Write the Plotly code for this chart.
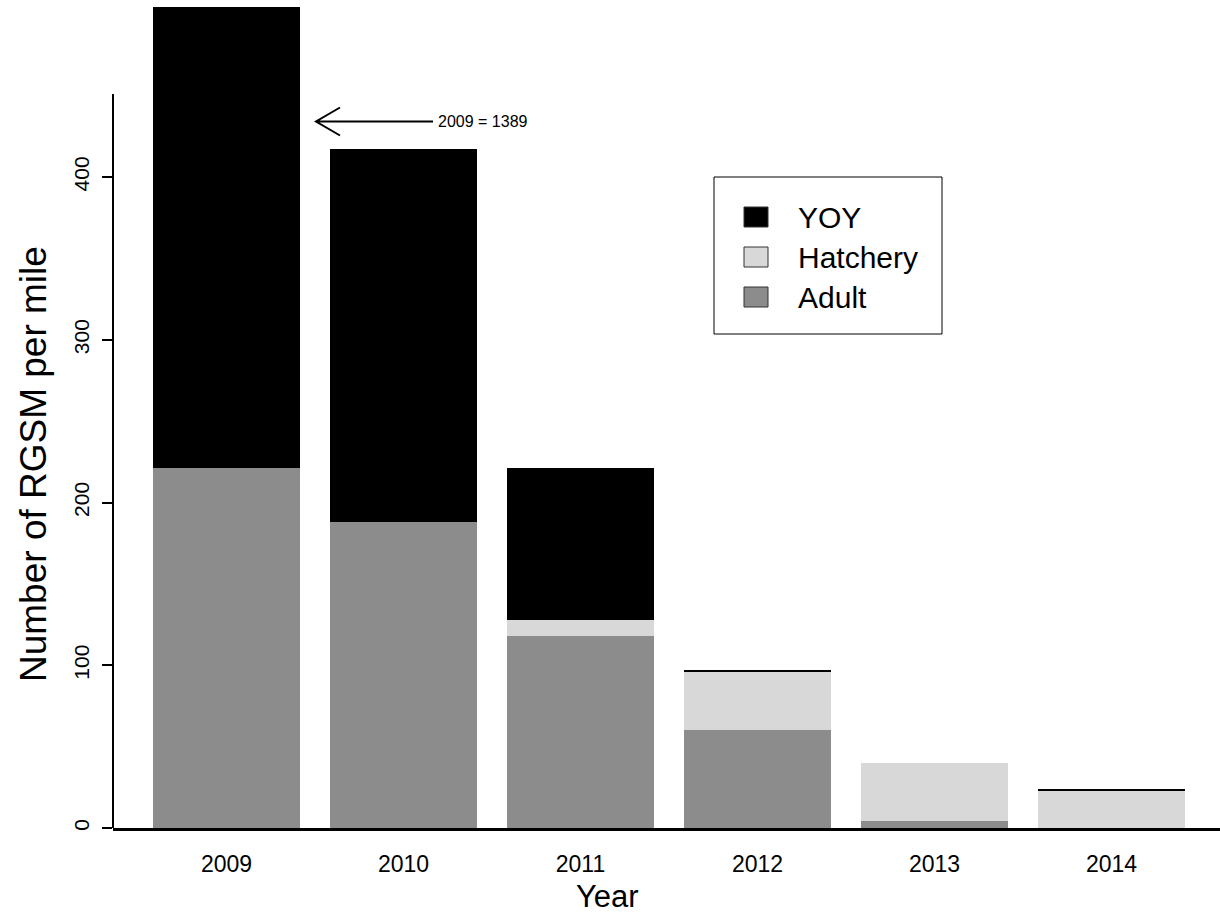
import plotly.graph_objects as go

# ---------------- data ----------------
years = ["2009", "2010", "2011", "2012", "2013", "2014"]
adult = [221, 188, 118, 60, 4, 0]
hatchery = [0, 0, 10, 36, 36, 23]
yoy = [1168, 229, 93, 1, 0, 1]
series_names = ["YOY", "Hatchery", "Adult"]
series_colors = ["#000000", "#d8d8d8", "#8c8c8c"]
y_ticks = [0, 100, 200, 300, 400]
note_text = "2009 = 1389"

# ---------------- layout geometry ----------------
W, H = 1220, 920
L, R, T, B = 113, 0, 7, 92
PW, PH = W - L - R, H - T - B
Y_MAX = 504.5
X_RANGE = [-0.641, 5.613]


def px(x):
    return (x - L) / PW


def py(y):
    return (H - B - y) / PH


xpos = list(range(len(years)))
FONT = "Liberation Sans, Arial, sans-serif"

fig = go.Figure()
# stacking order: Adult bottom, Hatchery, YOY top
for name, vals in [("Adult", adult), ("Hatchery", hatchery), ("YOY", yoy)]:
    col = series_colors[series_names.index(name)]
    fig.add_trace(go.Bar(x=xpos, y=vals, name=name, width=0.83,
                         marker=dict(color=col, line=dict(width=0)),
                         showlegend=False))

fig.update_layout(
    barmode="stack",
    width=W, height=H,
    margin=dict(l=L, r=R, t=T, b=B, pad=0),
    paper_bgcolor="white", plot_bgcolor="white",
    font=dict(family=FONT, color="black"),
    showlegend=False,
)

fig.update_xaxes(
    range=X_RANGE, tickvals=xpos, ticktext=years,
    showline=True, linecolor="black", linewidth=3,
    showgrid=False, zeroline=False, ticks="",
    ticklabelstandoff=13,
    tickfont=dict(size=23, family=FONT, color="black"),
    automargin=False,
)
fig.update_yaxes(
    range=[0, Y_MAX], tickvals=y_ticks,
    showline=False, showgrid=False, zeroline=False,
    ticks="outside", ticklen=10, tickwidth=1.5, tickcolor="black",
    tickangle=-90, ticklabelstandoff=5,
    tickfont=dict(size=21, family=FONT, color="black"),
    automargin=False,
)

# axis titles (placed like the R figure region, not centred on the plot area)
fig.add_annotation(xref="paper", yref="paper", x=px(607), y=py(896),
                   text="Year", showarrow=False, xanchor="center", yanchor="middle",
                   font=dict(size=31, family=FONT, color="black"))
fig.add_annotation(xref="paper", yref="paper", x=px(33), y=py(464),
                   text="Number of RGSM per mile", showarrow=False, textangle=-90,
                   xanchor="center", yanchor="middle",
                   font=dict(size=37, family=FONT, color="black"))

# y axis line (stops short of plot top, as in the reference)
fig.add_shape(type="line", xref="paper", yref="y", x0=0, x1=0, y0=0, y1=451,
              line=dict(color="black", width=2))

# arrow annotation pointing at the 2009 bar
head_x = px(316)
tail_x = px(433)
arm_x = px(340)
ya = py(121.5)
dy = 14 / PH
fig.add_shape(type="path", xref="paper", yref="paper",
              path=(f"M {tail_x},{ya} L {head_x},{ya} "
                    f"M {arm_x},{ya + dy} L {head_x},{ya} L {arm_x},{ya - dy}"),
              line=dict(color="black", width=2))
fig.add_annotation(xref="paper", yref="paper", x=px(436), y=ya,
                   text=note_text, showarrow=False, xanchor="left", yanchor="middle",
                   font=dict(size=16, family=FONT, color="black"))

# legend box (drawn manually to match the reference's R-style legend)
fig.add_shape(type="rect", xref="paper", yref="paper",
              x0=px(714), x1=px(942), y0=py(334), y1=py(177),
              line=dict(color="black", width=1), fillcolor="white", layer="above")
centers = [217, 257, 297]
for name, col, cy in zip(series_names, series_colors, centers):
    fig.add_shape(type="rect", xref="paper", yref="paper",
                  x0=px(744), x1=px(768), y0=py(cy + 10), y1=py(cy - 10),
                  line=dict(color="#333333", width=1), fillcolor=col, layer="above")
    fig.add_annotation(xref="paper", yref="paper", x=px(796), y=py(cy),
                       text=name, showarrow=False, xanchor="left", yanchor="middle",
                       font=dict(size=30, family=FONT, color="black"))

fig.write_html("out.html")
